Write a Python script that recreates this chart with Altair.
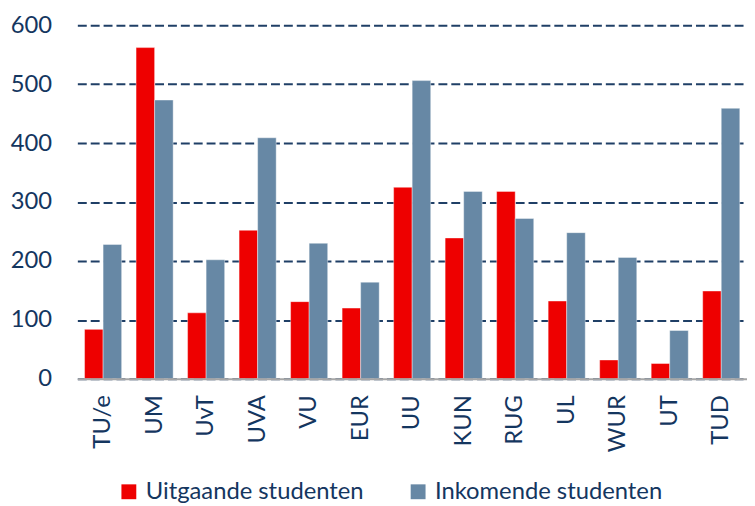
import altair as alt
import pandas as pd

universities = ["TU/e", "UM", "UvT", "UVA", "VU", "EUR", "UU", "KUN", "RUG", "UL", "WUR", "UT", "TUD"]
uitgaande = [84, 562, 112, 252, 131, 120, 325, 239, 318, 132, 32, 26, 149]
inkomende = [228, 473, 202, 409, 230, 164, 506, 318, 272, 248, 206, 82, 459]
series = ["Uitgaande studenten", "Inkomende studenten"]
colors = ["#EE0000", "#6788A5"]

rows = []
for u, a, b in zip(universities, uitgaande, inkomende):
    rows.append({"uni": u, "serie": series[0], "value": a})
    rows.append({"uni": u, "serie": series[1], "value": b})
df = pd.DataFrame(rows)

text_color = "#14365F"
font = "Lato"

chart = alt.Chart(df).mark_bar(stroke="#ffffff", strokeOpacity=0.5, strokeWidth=0.8).encode(
    x=alt.X("uni:N", sort=universities, title=None,
            scale=alt.Scale(paddingInner=0.28, paddingOuter=0.14),
            axis=alt.Axis(labelAngle=270, labelFont=font, labelFontSize=24,
                          labelColor=text_color, tickSize=0, ticks=False,
                          labelPadding=16, domainColor="#A6A6A6", domainWidth=2,
                          grid=False, zindex=1)),
    xOffset=alt.XOffset("serie:N", sort=series),
    y=alt.Y("value:Q", title=None,
            scale=alt.Scale(domain=[0, 600], nice=False),
            axis=alt.Axis(values=[0, 100, 200, 300, 400, 500, 600], labelFont=font,
                          labelFontSize=24, labelColor=text_color, ticks=False,
                          tickSize=0, domain=False, labelPadding=26,
                          gridColor="#1F3F66", gridDash=[9, 4], gridWidth=2)),
    color=alt.Color("serie:N", sort=series,
                    scale=alt.Scale(domain=series, range=colors),
                    legend=alt.Legend(title=None, orient="none", direction="horizontal",
                                      legendX=40, legendY=459, symbolType="square",
                                      symbolSize=225, symbolStrokeWidth=0,
                                      labelFont=font, labelFontSize=24, labelLimit=0,
                                      labelColor=text_color, labelOffset=5,
                                      columnPadding=42)),
).properties(
    width=676, height=357,
    autosize=alt.AutoSizeParams(type="none"),
    padding={"left": 70, "top": 15, "right": 0, "bottom": 126},
).configure_view(stroke=None)

chart.save("out.html", embed_options={"renderer": "svg", "actions": False})
